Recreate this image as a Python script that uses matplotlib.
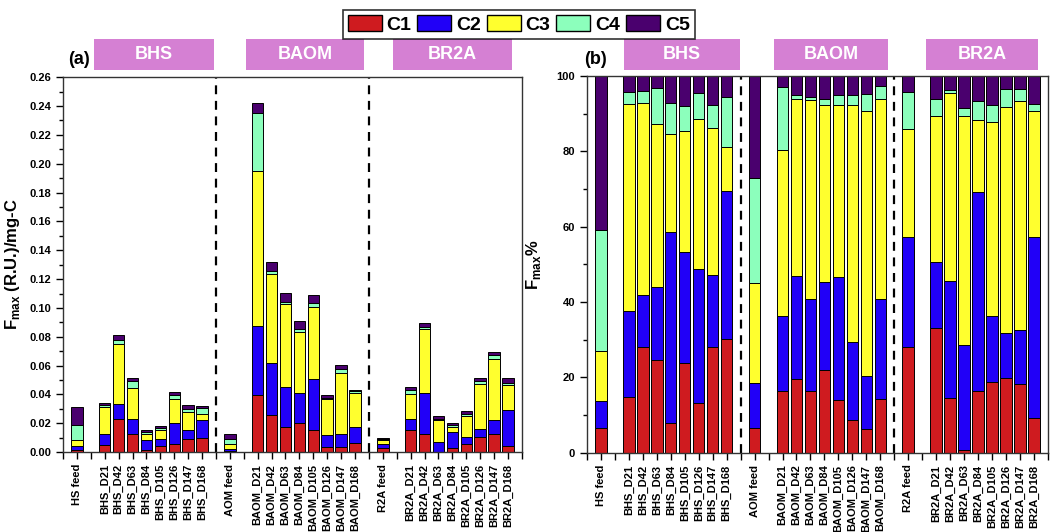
import numpy as np
import matplotlib
matplotlib.use("Agg")
import matplotlib.pyplot as plt
from matplotlib.patches import Patch, Rectangle

plt.rcParams['font.family'] = ['Liberation Sans', 'DejaVu Sans']
plt.rcParams['font.weight'] = 'bold'
plt.rcParams['mathtext.fontset'] = 'custom'
plt.rcParams['mathtext.bf'] = 'Liberation Sans:bold'
plt.rcParams['mathtext.rm'] = 'Liberation Sans:bold'

#%% data
samples = ['HS feed',
           'BHS_D21', 'BHS_D42', 'BHS_D63', 'BHS_D84', 'BHS_D105', 'BHS_D126', 'BHS_D147', 'BHS_D168',
           'AOM feed',
           'BAOM_D21', 'BAOM_D42', 'BAOM_D63', 'BAOM_D84', 'BAOM_D105', 'BAOM_D126', 'BAOM_D147', 'BAOM_D168',
           'R2A feed',
           'BR2A_D21', 'BR2A_D42', 'BR2A_D63', 'BR2A_D84', 'BR2A_D105', 'BR2A_D126', 'BR2A_D147', 'BR2A_D168']
components = ['C1', 'C2', 'C3', 'C4', 'C5']
groups = ['BHS', 'BAOM', 'BR2A']

# (a) Fmax (R.U.)/mg-C per component
fmax_C1 = [0.0018, 0.0050, 0.0227, 0.0126, 0.0012, 0.0041, 0.0055, 0.0090, 0.0097,
           0.0008, 0.0398, 0.0257, 0.0178, 0.0199, 0.0153, 0.0035, 0.0037, 0.0061,
           0.0026, 0.0151, 0.0129, 0.0002, 0.0032, 0.0054, 0.0102, 0.0126, 0.0046]
fmax_C2 = [0.0025, 0.0078, 0.0108, 0.0101, 0.0076, 0.0052, 0.0146, 0.0063, 0.0128,
           0.0015, 0.0480, 0.0362, 0.0273, 0.0209, 0.0355, 0.0083, 0.0087, 0.0116,
           0.0028, 0.0078, 0.0282, 0.0070, 0.0106, 0.0050, 0.0062, 0.0100, 0.0249]
fmax_C3 = [0.0040, 0.0185, 0.0414, 0.0218, 0.0040, 0.0060, 0.0167, 0.0125, 0.0037,
           0.0032, 0.1070, 0.0619, 0.0578, 0.0428, 0.0500, 0.0250, 0.0427, 0.0230,
           0.0028, 0.0177, 0.0446, 0.0154, 0.0038, 0.0148, 0.0308, 0.0423, 0.0170]
fmax_C4 = [0.0103, 0.0011, 0.0028, 0.0052, 0.0012, 0.0013, 0.0028, 0.0022, 0.0043,
           0.0035, 0.0405, 0.0018, 0.0013, 0.0016, 0.0028, 0.0011, 0.0025, 0.0015,
           0.0009, 0.0022, 0.0008, 0.0005, 0.0010, 0.0013, 0.0024, 0.0022, 0.0012]
fmax_C5 = [0.0128, 0.0014, 0.0035, 0.0017, 0.0011, 0.0014, 0.0020, 0.0026, 0.0018,
           0.0033, 0.0070, 0.0064, 0.0062, 0.0056, 0.0056, 0.0020, 0.0030, 0.0011,
           0.0004, 0.0026, 0.0033, 0.0021, 0.0013, 0.0022, 0.0018, 0.0023, 0.0037]

# (b) Fmax % per component
pct_C1 = [6.5, 14.7, 28.1, 24.6, 7.8, 23.7, 13.3, 28.0, 30.1,
          6.5, 16.4, 19.5, 16.4, 22.0, 14.0, 8.7, 6.2, 14.2,
          28.0, 33.2, 14.5, 0.7, 16.5, 18.9, 19.8, 18.3, 9.1]
pct_C2 = [7.3, 23.0, 13.7, 19.5, 50.8, 29.5, 35.5, 19.2, 39.4,
          12.1, 19.9, 27.3, 24.4, 23.2, 32.6, 20.8, 14.3, 26.7,
          29.3, 17.4, 31.2, 27.8, 52.6, 17.3, 12.1, 14.3, 48.3]
pct_C3 = [13.2, 55.0, 51.1, 43.3, 26.0, 32.2, 39.9, 38.9, 11.6,
          26.4, 44.2, 47.0, 52.8, 47.1, 45.7, 62.8, 70.2, 53.1,
          28.7, 38.8, 49.9, 60.9, 19.2, 51.6, 59.9, 60.8, 33.3]
pct_C4 = [32.1, 3.1, 3.2, 9.5, 8.3, 6.6, 6.7, 6.1, 13.4,
          28.0, 16.7, 1.2, 0.9, 1.7, 2.7, 2.6, 4.6, 3.3,
          9.7, 4.4, 0.7, 2.0, 5.1, 4.5, 4.7, 3.1, 2.0]
pct_C5 = [40.9, 4.2, 3.9, 3.1, 7.1, 8.0, 4.6, 7.8, 5.5,
          27.0, 2.8, 5.0, 5.5, 6.0, 5.0, 5.1, 4.7, 2.7,
          4.3, 6.2, 3.7, 8.6, 6.6, 7.7, 3.5, 3.5, 7.3]

#%% style
colors = ['#CF1B1F', '#2100F7', '#FFFF2E', '#8CFFBC', '#4A006E']
box_color = '#D580D3'
tick_font = 8
label_font = 12

# bar slots: feed, gap, 8 samples, dashed separator, ...
positions = []
for g in range(3):
    start = 1 + 11 * g
    positions += [start] + list(range(start + 2, start + 10))
positions = np.array(positions)
separators = [11, 22]

fig = plt.figure(figsize=(10.5, 5.32), dpi=100)
ax_a = fig.add_axes([0.060, 0.150, 0.437, 0.705])
ax_b = fig.add_axes([0.559, 0.149, 0.439, 0.708])


def stacked(ax, series):
    bottom = np.zeros(len(positions))
    for vals, col in zip(series, colors):
        vals = np.array(vals)
        ax.bar(positions, vals, bottom=bottom, width=0.82, color=col,
               edgecolor='black', linewidth=0.7, zorder=2)
        bottom += vals
    for s in separators:
        ax.axvline(s, color='black', linestyle=(0, (4, 3)), lw=1.6, zorder=1)
    ax.set_xlim(0, 33)
    ax.set_xticks(np.arange(0, 34))
    labels = [''] * 34
    for p, s in zip(positions, samples):
        labels[p] = s
    ax.set_xticklabels(labels, rotation=90, fontsize=tick_font, fontweight='bold')
    ax.tick_params(axis='both', which='both', direction='out')
    ax.tick_params(axis='both', which='major', length=5, width=1)
    ax.tick_params(axis='y', which='minor', length=3, width=1)
    for sp in ax.spines.values():
        sp.set_linewidth(1.0)
        sp.set_color('#333333')


stacked(ax_a, [fmax_C1, fmax_C2, fmax_C3, fmax_C4, fmax_C5])
ax_a.set_ylim(0, 0.26)
ax_a.set_yticks(np.arange(0, 0.261, 0.02))
ax_a.set_yticks(np.arange(0, 0.261, 0.01), minor=True)
ax_a.set_yticklabels([f'{v:.2f}' for v in np.arange(0, 0.261, 0.02)],
                     fontsize=tick_font, fontweight='bold')
ax_a.set_ylabel(r'F$_{\mathbf{max}}$ (R.U.)/mg-C', fontsize=label_font,
                fontweight='bold', labelpad=5)

stacked(ax_b, [pct_C1, pct_C2, pct_C3, pct_C4, pct_C5])
ax_b.set_ylim(0, 100)
ax_b.set_yticks(np.arange(0, 101, 20))
ax_b.set_yticks(np.arange(0, 101, 10), minor=True)
ax_b.set_yticklabels([str(v) for v in range(0, 101, 20)],
                     fontsize=tick_font, fontweight='bold')
ax_b.set_ylabel(r'F$_{\mathbf{max}}$%', fontsize=label_font,
                fontweight='bold', labelpad=10)

# panel letters
fig.text(0.065, 0.872, '(a)', fontsize=13, fontweight='bold', va='bottom')
fig.text(0.556, 0.872, '(b)', fontsize=13, fontweight='bold', va='bottom')

# group boxes (figure pixel extents)
boxes_a = [(94, 214), (246, 364), (393, 512)]
boxes_b = [(624, 740), (774, 888), (926, 1038)]
for (x0, x1), name in zip(boxes_a + boxes_b, groups + groups):
    y0, y1 = 1 - 70 / 532, 1 - 39 / 532
    fig.patches.append(Rectangle((x0 / 1050, y0), (x1 - x0) / 1050, y1 - y0,
                                 transform=fig.transFigure, facecolor=box_color,
                                 edgecolor='none'))
    fig.text((x0 + x1) / 2 / 1050, (y0 + y1) / 2, name, color='white',
             fontsize=13, fontweight='bold', ha='center', va='center')

handles = [Patch(facecolor=c, edgecolor='black', linewidth=1) for c in colors]
leg = fig.legend(handles, components, loc='upper center', ncol=5,
                 bbox_to_anchor=(0.494, 1.0), frameon=True, fancybox=False,
                 edgecolor='black', handlelength=1.75, handleheight=0.95,
                 handletextpad=0.25, columnspacing=0.3, borderpad=0.25,
                 prop={'weight': 'bold', 'size': 14})
leg.get_frame().set_linewidth(1.2)

fig.savefig('out.png', dpi=100)
